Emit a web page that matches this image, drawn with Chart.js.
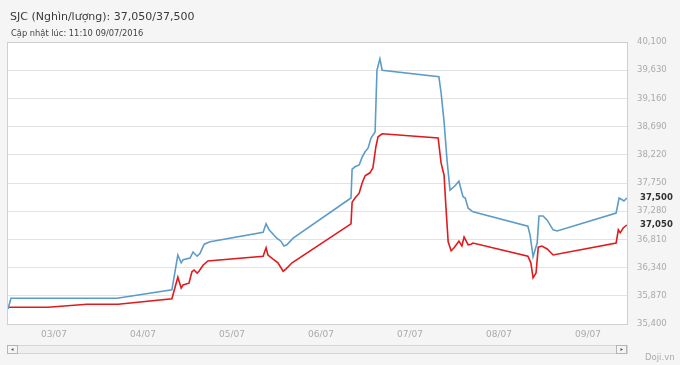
<!DOCTYPE html>
<html>
<head>
<meta charset="utf-8">
<script src="https://cdn.jsdelivr.net/npm/chart.js@4"></script>
<style>
  body { margin: 0; background: #f5f5f5; font-family: 'DejaVu Sans', sans-serif; }
  #wrap { position: relative; width: 680px; height: 365px; overflow: hidden; }
  #title { position: absolute; left: 10px; top: 10px; font-size: 11px; color: #3a3a3a; white-space: nowrap; }
  #updated { position: absolute; left: 11px; top: 28px; font-size: 8.3px; color: #444; white-space: nowrap; }
  #brand { position: absolute; left: 645px; top: 352px; font-size: 8.5px; color: #aaa; }
  canvas { position: absolute; left: 0; top: 0; }
</style>
</head>
<body>
<div id="wrap">
  <canvas id="goldChart" width="680" height="365"></canvas>
  <div id="title">SJC (Nghìn/lượng): 37,050/37,500</div>
  <div id="updated">Cập nhật lúc: 11:10 09/07/2016</div>
  <div id="brand">Doji.vn</div>
</div>
<script>
const ctx = document.getElementById('goldChart').getContext('2d');

// x = hours since 03/07 00:00
const dayLabels = ['03/07', '04/07', '05/07', '06/07', '07/07', '08/07', '09/07']

// sell price (blue)
const sellHours = [-12.4, -11.6, 17.0, 31.8, 33.4, 34.3, 34.8, 36.7, 37.5, 38.6, 39.4, 40.5, 42.1,
    56.4, 57.2, 58.0, 60.1, 61.2, 62.0, 62.8, 64.5, 80.1, 80.4, 81.2, 82.3, 83.1, 83.9, 84.7, 85.5, 86.6,
    87.1, 87.9, 88.5, 103.8, 104.4, 105.2, 106.0, 106.8, 108.1, 109.2, 110.3, 110.9, 111.7, 113.0,
    127.8, 128.4, 129.2, 130.3, 130.8, 131.9, 133.0, 134.6, 135.7, 151.6, 152.4, 153.2, 153.7, 154.5]
const sellValues = [35650, 35830, 35830, 35970, 36550, 36420, 36470, 36500, 36600, 36530, 36580, 36730, 36770,
    36930, 37070, 36970, 36830, 36780, 36700, 36720, 36830, 37500, 37980, 38020, 38050, 38180, 38270, 38330, 38500, 38600,
    39630, 39820, 39630, 39520, 39250, 38770, 38130, 37630, 37700, 37780, 37520, 37500, 37330, 37270,
    37030, 36880, 36520, 36750, 37200, 37200, 37130, 36970, 36950, 37250, 37500, 37470, 37450, 37500]

// buy price (red)
const buyHours = [-12.4, -1.6, 8.9, 17.3, 31.8, 33.4, 34.3, 34.8, 36.4, 37.2, 37.8, 38.6, 39.1, 40.2, 41.5,
    56.4, 57.2, 57.7, 59.1, 60.4, 61.8, 62.6, 64.2, 80.1, 80.4, 81.2, 82.3, 83.1, 83.9, 85.2, 86.0, 86.8, 87.4,
    88.5, 103.6, 104.4, 105.2, 105.7, 106.3, 107.1, 107.9, 109.2, 110.0, 110.6, 111.7, 112.5, 113.0,
    127.8, 128.6, 129.2, 130.0, 130.6, 131.6, 133.0, 134.6, 151.6, 152.2, 152.7, 153.5, 154.5]
const buyValues = [35680, 35680, 35730, 35730, 35820, 36180, 36000, 36050, 36080, 36270, 36300, 36250, 36280, 36380, 36450,
    36530, 36670, 36550, 36480, 36420, 36280, 36320, 36420, 37070, 37430, 37500, 37580, 37750, 37870, 37920, 38000, 38350, 38520,
    38570, 38500, 38080, 37880, 37350, 36770, 36620, 36670, 36780, 36700, 36850, 36720, 36730, 36750,
    36530, 36420, 36170, 36250, 36680, 36700, 36650, 36550, 36750, 36970, 36920, 37000, 37050]

const fmt = v => Math.round(v).toLocaleString('en-US')

const framePlugin = {
    id: 'frame',
    beforeDraw(chart) {
        const { ctx, chartArea: a } = chart
        ctx.save()
        ctx.fillStyle = '#ffffff'
        ctx.fillRect(a.left, a.top, a.right - a.left, a.bottom - a.top)
        ctx.restore()
    },
    afterDraw(chart) {
        const { ctx, chartArea: a } = chart
        ctx.save()
        ctx.strokeStyle = '#cfcfcf'
        ctx.lineWidth = 1
        ctx.strokeRect(a.left + 0.5, a.top + 0.5, a.right - a.left - 1, a.bottom - a.top)

        // current prices on the right axis
        const y = chart.scales.y
        ctx.fillStyle = '#333'
        ctx.font = 'bold 8.5px "DejaVu Sans"'
        ctx.textBaseline = 'middle'
        ctx.textAlign = 'left'
        ctx.fillText(fmt(sellValues[sellValues.length - 1]), a.right + 12, y.getPixelForValue(sellValues[sellValues.length - 1]))
        ctx.fillText(fmt(buyValues[buyValues.length - 1]), a.right + 12, y.getPixelForValue(buyValues[buyValues.length - 1]))

        // scrollbar
        const top = a.bottom + 21
        ctx.fillStyle = '#efefef'
        ctx.fillRect(a.left, top, a.right - a.left, 9)
        ctx.strokeStyle = '#d6d6d6'
        ctx.strokeRect(a.left + 0.5, top + 0.5, a.right - a.left - 1, 8)
        ctx.fillStyle = '#f4f4f4'
        ctx.strokeStyle = '#b5b5b5'
        ctx.fillRect(a.left, top, 10, 9)
        ctx.strokeRect(a.left + 0.5, top + 0.5, 10, 8)
        ctx.fillRect(a.right - 11, top, 10, 9)
        ctx.strokeRect(a.right - 11.5, top + 0.5, 10, 8)
        ctx.fillStyle = '#555'
        ctx.beginPath()
        ctx.moveTo(a.left + 4, top + 4.5); ctx.lineTo(a.left + 6.5, top + 3); ctx.lineTo(a.left + 6.5, top + 6); ctx.fill()
        ctx.beginPath()
        ctx.moveTo(a.right - 5, top + 4.5); ctx.lineTo(a.right - 7.5, top + 3); ctx.lineTo(a.right - 7.5, top + 6); ctx.fill()
        ctx.restore()
    }
}

const data = {
    datasets: [{
        label: 'Bán',
        data: sellHours.map((h, i) => ({ x: h, y: sellValues[i] })),
        borderColor: '#5d9cc8',
        borderWidth: 1.6,
        pointRadius: 0,
        tension: 0,
    }, {
        label: 'Mua',
        data: buyHours.map((h, i) => ({ x: h, y: buyValues[i] })),
        borderColor: '#e01a1d',
        borderWidth: 1.6,
        pointRadius: 0,
        tension: 0,
    }],
}

const config = {
    type: 'line',
    data: data,
    options: {
        responsive: false,
        animation: false,
        layout: { padding: { left: 7, top: 42, right: 0, bottom: 0 } },
        plugins: { legend: { display: false }, tooltip: { enabled: false } },
        scales: {
            x: {
                type: 'linear',
                min: -12.67,
                max: 154.8,
                grid: { display: false, drawTicks: false },
                border: { display: false },
                afterBuildTicks: axis => { axis.ticks = dayLabels.map((l, i) => ({ value: i * 24 })) },
                afterFit: axis => { axis.height = 41 },
                ticks: {
                    color: '#aaa',
                    font: { size: 9, family: 'DejaVu Sans' },
                    padding: 5,
                    maxRotation: 0,
                    autoSkip: false,
                    callback: v => dayLabels[Math.round(v / 24)],
                },
            },
            y: {
                position: 'right',
                min: 35400,
                max: 40100,
                grid: { color: '#e2e2e2', drawTicks: false },
                border: { display: false },
                afterFit: axis => { axis.width = 52 },
                ticks: {
                    stepSize: 470,
                    color: '#aaa',
                    font: { size: 8.5, family: 'DejaVu Sans' },
                    padding: 9,
                    callback: v => fmt(v),
                },
            },
        },
    },
    plugins: [framePlugin],
}

const goldChart = new Chart(ctx, config)
</script>
</body>
</html>
